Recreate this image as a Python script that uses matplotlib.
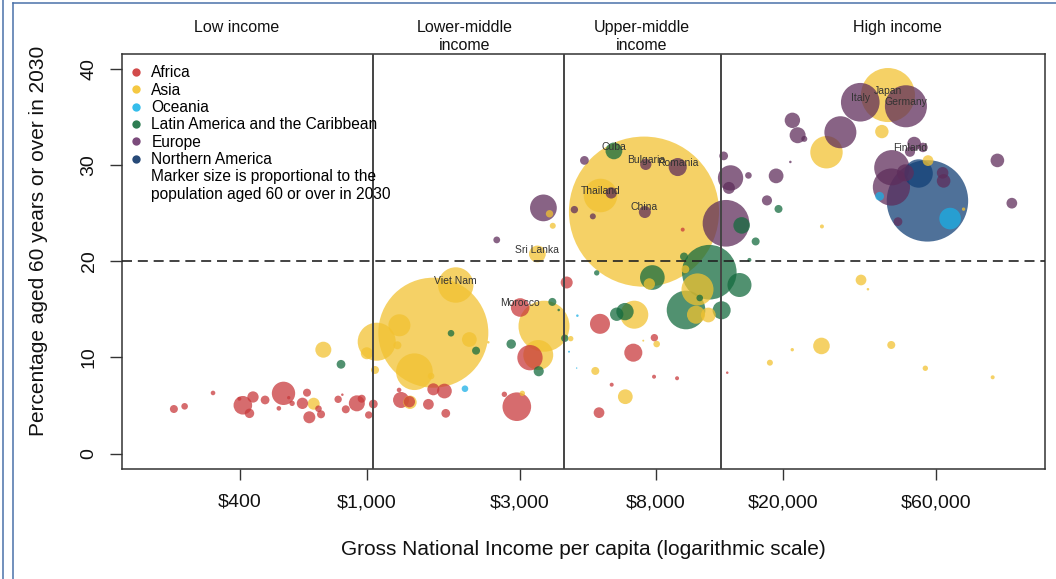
"""
Ageing vs income bubble chart: share of population aged 60+ in 2030
against GNI per capita (log scale), bubble area ~ population aged 60+.
"""

import matplotlib

matplotlib.use("Agg")

import matplotlib.pyplot as plt
import numpy as np
import pandas as pd
from matplotlib.lines import Line2D
from matplotlib.ticker import NullLocator

plt.rcParams["font.family"] = ["Liberation Sans", "DejaVu Sans"]

# ---------------------------------------------------------------------------
# Data
# ---------------------------------------------------------------------------

REGIONS = [
    "Africa",
    "Asia",
    "Oceania",
    "Latin America and the Caribbean",
    "Europe",
    "Northern America",
]

# first len(*_names) entries of each region are labelled on the chart
africa_names = ["Morocco"]
africa_gni = [3010, 249, 269, 330, 409, 440, 429, 399, 480, 548, 530, 569, 583,
              649, 628, 660, 705, 718, 812, 837, 858, 929, 962, 1012, 1046,
              1259, 1277, 1356, 1555, 1611, 1745, 1762, 2686, 2938, 3230,
              4207, 5346, 6795, 7907, 5816, 7888, 9310, 5309, 9696, 13360]
africa_pct = [15.2, 4.64, 4.92, 6.31, 5.03, 5.89, 4.19, 5.71, 5.58, 6.27, 4.71,
              5.82, 5.23, 6.34, 5.23, 3.78, 4.67, 4.09, 5.65, 6.13, 4.61, 5.23,
              5.71, 4.02, 5.16, 6.62, 5.58, 5.40, 5.13, 6.69, 6.51, 4.19, 6.17,
              4.88, 9.98, 17.8, 13.5, 10.5, 12.06, 7.17, 8.0, 7.84, 4.26, 23.3,
              8.42]
africa_pop = [5.4, 1.0, 0.68, 0.33, 5.4, 2.0, 1.4, 0.25, 1.2, 8.5, 0.33, 0.18,
              0.45, 1.0, 2.0, 2.25, 0.68, 1.0, 0.85, 0.1, 1.0, 4.0, 1.0, 0.85,
              1.2, 0.33, 4.0, 2.0, 1.8, 2.25, 3.4, 1.2, 0.45, 12.8, 10.0, 2.25,
              6.25, 5.1, 0.85, 0.25, 0.25, 0.25, 1.8, 0.25, 0.1]

asia_names = ["China", "Thailand", "Viet Nam", "Sri Lanka", "Japan"]
asia_gni = [7338, 5366, 1893, 3407, 42480, 1611, 3573, 1072, 1406, 3428, 27290,
            10785, 6843, 1262, 730, 26320, 2088, 6415, 11660, 10670, 1362,
            40650, 681, 998, 7625, 34990, 56670, 1059, 1244, 5169, 9879, 43500,
            3718, 3806, 1585, 8040, 18160, 3057, 4331, 55580, 90250, 26410,
            21330, 73200, 2393, 36780, 7300]
asia_pct = [25.17, 26.85, 17.54, 20.77, 37.3, 12.58, 13.25, 11.64, 8.52, 10.26,
            31.35, 17.08, 14.45, 13.35, 10.81, 11.2, 11.87, 5.92, 14.42, 14.45,
            5.34, 33.5, 5.19, 10.44, 17.65, 18.06, 30.48, 8.70, 11.27, 8.6,
            19.18, 11.3, 24.95, 23.7, 8.07, 11.4, 9.46, 6.27, 11.96, 8.88, 7.94,
            23.63, 10.81, 25.43, 11.58, 17.1, 11.75]
asia_pop = [352, 17.6, 19.6, 4.4, 45.6, 189, 40.6, 22.6, 21, 14, 16.4, 16, 12.25,
            7.6, 4.0, 4.3, 3.4, 3.4, 3.4, 5.1, 2.8, 2.8, 2.25, 2.25, 2.0, 1.8,
            1.8, 1.0, 1.0, 1.0, 1.0, 1.0, 0.85, 0.56, 0.68, 0.68, 0.56, 0.45,
            0.45, 0.45, 0.25, 0.25, 0.18, 0.18, 0.1, 0.1, 0.06]

oceania_names = []
oceania_gni = [66440, 40000, 2023, 4543, 4278, 4520]
oceania_pct = [24.45, 26.77, 6.75, 14.35, 10.6, 8.9]
oceania_pop = [7.3, 1.2, 0.68, 0.1, 0.06, 0.03]

latam_names = ["Cuba"]
latam_gni = [5910, 11740, 9931, 7793, 14590, 12830, 6400, 14820, 6030, 3440,
             2822, 829, 2191, 3794, 9787, 16390, 19320, 4150, 1830, 10960,
             5222, 15670, 3972]
latam_pct = [31.49, 18.87, 14.94, 18.32, 17.54, 14.91, 14.77, 23.74, 14.5, 8.57,
             11.4, 9.29, 10.71, 15.78, 20.5, 22.07, 25.45, 12.0, 12.52, 16.19,
             18.8, 20.15, 14.94]
latam_pop = [4.4, 46.6, 23.3, 9.5, 9.0, 5.1, 4.7, 4.3, 2.8, 1.6, 1.4, 1.2, 1.0,
             1.0, 1.0, 1.0, 1.0, 0.85, 0.68, 0.68, 0.45, 0.25, 0.1]

europe_names = ["Bulgaria", "Romania", "Italy", "Germany", "Finland"]
europe_gni = [7432, 9354, 34800, 48340, 49770, 13240, 43550, 43670, 30160, 3558,
              13680, 48140, 22170, 21350, 18990, 51290, 63400, 93360, 7383,
              13520, 62950, 5796, 103600, 17780, 54640, 4779, 13020, 45650,
              4446, 2543, 15560, 5078, 23260, 21040]
europe_pct = [30.09, 29.81, 36.55, 36.13, 31.4, 23.96, 27.73, 29.74, 33.43,
              25.56, 28.68, 29.21, 33.12, 34.67, 28.89, 32.25, 28.37, 30.5,
              25.13, 27.64, 29.21, 27.12, 26.05, 26.34, 31.85, 30.5, 30.97,
              24.13, 25.38, 22.23, 28.94, 24.68, 32.74, 30.34]
europe_pop = [2.0, 5.1, 23.3, 27.6, 1.6, 34, 21.6, 19.4, 16, 11.2, 10, 4.5, 4.0,
              3.7, 3.4, 2.9, 2.9, 2.9, 2.25, 2.25, 2.1, 2.0, 1.8, 1.6, 1.4, 1.2,
              1.2, 1.2, 0.85, 0.72, 0.68, 0.56, 0.56, 0.1]

namerica_names = []
namerica_gni = [56440, 52960]
namerica_pct = [26.29, 29.14]
namerica_pop = [103.5, 12.6]

# World Bank income thresholds and group headers
THRESHOLDS = [1045, 4125, 12736]
GROUP_LABELS = ["Low income", "Lower-middle\nincome", "Upper-middle\nincome",
                "High income"]
GROUP_X = [390, 2020, 7230, 45600]

XTICKS = [400, 1000, 3000, 8000, 20000, 60000]
XTICKLABELS = ["$400", "$1,000", "$3,000", "$8,000", "$20,000", "$60,000"]
YTICKS = [0, 10, 20, 30, 40]

# ---------------------------------------------------------------------------
# Style
# ---------------------------------------------------------------------------

BUBBLE_COLORS = {
    "Africa": "#C8393B",
    "Asia": "#F2C230",
    "Oceania": "#1AAFE6",
    "Latin America and the Caribbean": "#146B3E",
    "Europe": "#5E2D5B",
    "Northern America": "#113F76",
}
LEGEND_COLORS = {
    "Africa": "#D24B4B",
    "Asia": "#F5C842",
    "Oceania": "#35BDEB",
    "Latin America and the Caribbean": "#2E7D52",
    "Europe": "#7B4B7B",
    "Northern America": "#274A78",
}
ALPHA = 0.74
SIZE_PER_MILLION = 33.2  # scatter area (pt^2) per million aged 60+

W, H = 1056, 579


def build_frame() -> pd.DataFrame:
    parts = [
        ("Africa", africa_names, africa_gni, africa_pct, africa_pop),
        ("Asia", asia_names, asia_gni, asia_pct, asia_pop),
        ("Oceania", oceania_names, oceania_gni, oceania_pct, oceania_pop),
        ("Latin America and the Caribbean", latam_names, latam_gni, latam_pct,
         latam_pop),
        ("Europe", europe_names, europe_gni, europe_pct, europe_pop),
        ("Northern America", namerica_names, namerica_gni, namerica_pct,
         namerica_pop),
    ]
    rows = []
    for region, names, gni, pct, pop in parts:
        for i, (g, p, n) in enumerate(zip(gni, pct, pop)):
            rows.append({
                "region": region,
                "name": names[i] if i < len(names) else "",
                "gni": g,
                "pct": p,
                "pop": n,
            })
    return pd.DataFrame(rows)


def main() -> None:
    df = build_frame().sort_values("pop", ascending=False)

    fig = plt.figure(figsize=(W / 100, H / 100), dpi=100)
    ax = fig.add_axes([122 / W, 1 - 469 / H, 923 / W, 415.3 / H])

    colors = [matplotlib.colors.to_rgba(BUBBLE_COLORS[r], ALPHA) for r in df["region"]]
    ax.scatter(df["gni"], df["pct"], s=df["pop"] * SIZE_PER_MILLION,
               c=colors, linewidths=0, zorder=3)

    for _, row in df[df["name"] != ""].iterrows():
        ax.annotate(row["name"], xy=(row["gni"], row["pct"]),
                    xytext=(0, 3), textcoords="offset points",
                    ha="center", va="center", fontsize=7.5, color="#333333",
                    zorder=5)

    ax.set_xscale("log")
    ax.set_xlim(10 ** 2.234, 10 ** 5.119)
    ax.set_ylim(-1.6, 41.6)

    for t in THRESHOLDS:
        ax.axvline(t, color="#444444", linewidth=1.4, zorder=4)
    ax.axhline(20, color="#222222", linewidth=1.2, linestyle=(0, (6, 3.5)), zorder=4)

    for gx, lab in zip(GROUP_X, GROUP_LABELS):
        ax.text(gx, 1.081, lab, transform=ax.get_xaxis_transform(),
                ha="center", va="top", fontsize=11.5, linespacing=1.25,
                color="#111111")

    ax.set_xticks(XTICKS)
    ax.set_xticklabels(XTICKLABELS)
    ax.xaxis.set_minor_locator(NullLocator())
    ax.set_yticks(YTICKS)
    ax.set_yticklabels([str(v) for v in YTICKS], rotation=90, va="center")
    ax.tick_params(axis="x", direction="out", length=8, width=1.0,
                   pad=10, labelsize=14, colors="#333333", labelcolor="#111111")
    ax.tick_params(axis="y", direction="out", length=8.6, width=1.0,
                   pad=9, labelsize=14, colors="#333333", labelcolor="#111111")

    ax.set_xlabel("Gross National Income per capita (logarithmic scale)",
                  fontsize=15, color="#111111")
    ax.xaxis.set_label_coords(0.5, -0.172)
    ax.set_ylabel("Percentage aged 60 years or over in 2030",
                  fontsize=15, color="#111111")
    ax.yaxis.set_label_coords(-0.080, 0.55)

    for sp in ax.spines.values():
        sp.set_color("#333333")
        sp.set_linewidth(1.1)

    handles = [Line2D([], [], ls="", marker="o", markersize=6,
                      markeredgewidth=0, color=LEGEND_COLORS[r]) for r in REGIONS]
    labels = list(REGIONS)
    handles += [Line2D([], [], ls="", marker=""), Line2D([], [], ls="", marker="")]
    labels += ["Marker size is proportional to the",
               "population aged 60 or over in 2030"]
    ax.legend(handles, labels, loc="upper left",
              bbox_to_anchor=((128 - 122) / 923, (469 - 65.5) / 415.3),
              frameon=False, fontsize=11.2, handlelength=1.0,
              handletextpad=0.5, labelspacing=0.15, borderpad=0,
              borderaxespad=0)

    # blue frame around the figure, as in the source report
    blue = "#4A72AA"
    fig.add_artist(Line2D([2.5 / W, 2.5 / W], [0, 1], color=blue, lw=1.1,
                          transform=fig.transFigure))
    fig.add_artist(Line2D([12.5 / W, 12.5 / W], [0, 1 - 3 / H], color=blue,
                          lw=1.1, transform=fig.transFigure))
    fig.add_artist(Line2D([12.5 / W, 1], [1 - 3 / H, 1 - 3 / H], color=blue,
                          lw=1.1, transform=fig.transFigure))

    fig.savefig("out.png", dpi=100)
    plt.close(fig)


if __name__ == "__main__":
    main()
